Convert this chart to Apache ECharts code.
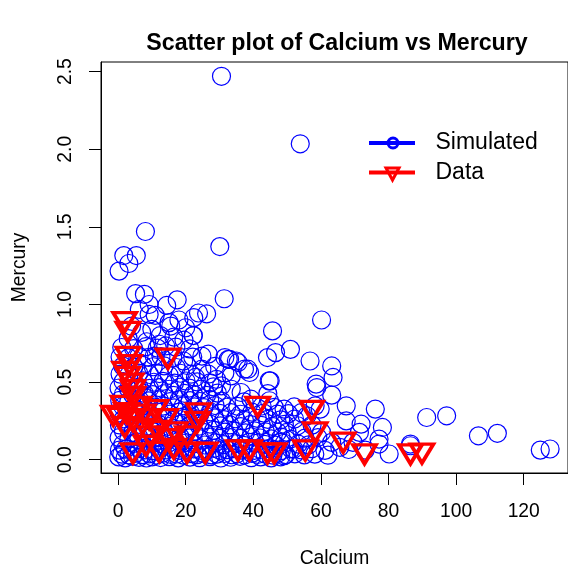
<!DOCTYPE html>
<html>
<head>
<meta charset="utf-8">
<script src="https://cdn.jsdelivr.net/npm/echarts@6/dist/echarts.min.js"></script>
<style>
html,body{margin:0;padding:0;background:#fff;}
#chart{width:568px;height:573px;}
</style>
</head>
<body>
<div id="chart"></div>
<script>
// ---- Data ----
var chartTitle = "Scatter plot of Calcium vs Mercury";
var xLabel = "Calcium";
var yLabel = "Mercury";
var xTicks = [0, 20, 40, 60, 80, 100, 120];
var yTicks = [0, 0.5, 1.0, 1.5, 2.0, 2.5];
var seriesNames = ["Simulated", "Data"];

// Simulated: sparse / outlying points
var simOutliers = [
  [30.6,2.47],[53.9,2.035],[8.1,1.47],[1.7,1.315],[5.4,1.315],[3.2,1.264],[0.3,1.215],
  [30.1,1.373],[31.4,1.037],[5.2,1.07],[7.8,1.065],[17.5,1.03],[14.4,0.994],[9.2,1.0],
  [60.2,0.90],[45.7,0.83],[23.8,0.945],[26.2,0.94],[22.4,0.915],[15.6,0.861],[22.2,0.80],
  [15.1,0.883],[6.3,0.968],[9.2,0.936],[24.8,0.668],[44.2,0.658],[46.6,0.69],[51,0.711],
  [12.2,0.744],[14.1,0.733],[32.6,0.647],[35,0.636],[37.4,0.583],[38.9,0.562],[45,0.508],
  [33.5,0.54],[19.4,0.636],[10.7,0.668],[56.8,0.636],[63.2,0.604],[63.6,0.53],[58.6,0.487],
  [58.8,0.465],[63.2,0.416],[67.5,0.347],[76.1,0.326],[59.8,0.326],[55.9,0.283],[58.3,0.347],
  [67.5,0.25],[71.9,0.229],[78.2,0.208],[71.4,0.176],[77.2,0.133],[77.2,0.101],[91.3,0.272],
  [97.2,0.283],[86.5,0.101],[80.2,0.037],[69.5,0.112],[65.6,0.08],[63.2,0.112],[106.6,0.154],
  [112.2,0.17],[124.9,0.062],[127.8,0.069],[86.5,0.09]
];
// Simulated: medium-density points
var simMid = [
  [22.3,0.8],[26.7,0.68],[33,0.647],[31.6,0.658],[35.5,0.626],[38.4,0.583],[44.7,0.508],
  [24.8,0.583],[26.7,0.551],[29.1,0.518],[22.9,0.53],[30.6,0.476],[33.5,0.454],[36.4,0.433],
  [39.3,0.39],[46.2,0.337],[49.1,0.326],[47.1,0.294],[50,0.176],[51,0.133],[48.1,0.112],
  [52,0.069],[49.1,0.026],[4,0.86],[7,0.82],[10,0.84],[12.5,0.8],[18,0.9],[20,0.85],
  [11,0.93],[3,0.78],[8.5,0.76],[16.5,0.79],[19.5,0.77]
];
// Simulated: dense cloud near the origin
var simDense = [
  [0.2,0.018],[2.1,0.012],[4.3,0.021],[6.2,0.015],[8.4,0.011],[10.1,0.019],[12.6,0.014],[15.2,0.02],[17.8,0.012],[21.3,0.017],[24.1,0.013],[27.2,0.02],[30.4,0.011],[33.3,0.016],[36.1,0.022],[39.4,0.013],[42.2,0.018],[45.3,0.012],[48.1,0.019],
  [1.1,0.036],[3.2,0.031],[5.1,0.04],[7.3,0.033],[9.2,0.038],[11.4,0.029],[13.1,0.041],[15.6,0.034],[17.3,0.037],[19.2,0.03],[21.7,0.039],[23.4,0.033],[25.2,0.042],[27.6,0.031],[29.3,0.036],[31.5,0.04],[33.7,0.032],[35.2,0.038],[37.4,0.03],[39.6,0.041],[41.3,0.034],[43.5,0.037],[45.8,0.029],[47.2,0.04],[49.6,0.033],[52.3,0.038],[55.1,0.031],[58.2,0.036],[62.1,0.029],
  [0.4,0.062],[2.2,0.068],[4.1,0.059],[6.3,0.071],[8.1,0.064],[10.3,0.058],[12.2,0.069],[14.4,0.063],[16.1,0.072],[18.3,0.06],[20.2,0.066],[22.4,0.07],[24.3,0.061],[26.1,0.067],[28.4,0.073],[30.2,0.059],[32.3,0.065],[34.1,0.071],[36.4,0.062],[38.2,0.068],[40.3,0.06],[42.1,0.066],[44.4,0.072],[46.2,0.063],[48.3,0.058],[51.2,0.069],[54.1,0.064],[57.3,0.071],[61.2,0.06],[68.2,0.066],[73.1,0.062],
  [1.4,0.098],[4.6,0.104],[7.3,0.094],[10.6,0.107],[13.2,0.099],[16.7,0.093],[19.4,0.106],[22.3,0.101],[25.6,0.095],[28.7,0.108],[31.3,0.097],[34.6,0.103],[37.2,0.092],[40.7,0.105],[43.4,0.099],[46.6,0.094],[49.2,0.106],[53.3,0.101],[56.4,0.096],
  [0.3,0.142],[3.2,0.136],[6.1,0.147],[9.3,0.139],[12.1,0.144],[15.2,0.134],[18.3,0.149],[21.1,0.141],[24.2,0.135],[27.4,0.146],[30.1,0.138],[33.3,0.143],[36.2,0.137],[39.4,0.148],[42.1,0.14],[45.3,0.134],[48.2,0.145],[55.3,0.139],[59.1,0.143],
  [1.6,0.183],[4.4,0.176],[7.7,0.188],[10.4,0.179],[13.6,0.185],[16.3,0.174],[19.7,0.187],[22.4,0.181],[25.7,0.175],[28.3,0.189],[31.6,0.178],[34.3,0.184],[37.7,0.173],[40.4,0.186],[43.6,0.18],[47.2,0.177],[54.4,0.182],[60.2,0.176],
  [0.4,0.224],[3.1,0.216],[6.2,0.228],[9.1,0.219],[12.3,0.225],[15.1,0.214],[18.2,0.227],[21.3,0.22],[24.1,0.216],[27.2,0.229],[30.3,0.218],[33.1,0.224],[36.3,0.213],[39.2,0.226],[42.4,0.221],[45.6,0.215],[49.2,0.228],[53.1,0.219],[57.4,0.223],
  [1.6,0.263],[4.3,0.256],[7.6,0.268],[10.3,0.259],[13.7,0.265],[16.4,0.254],[19.6,0.267],[22.3,0.261],[25.4,0.256],[28.6,0.269],[31.3,0.258],[34.7,0.264],[37.4,0.253],[41.2,0.266],[44.3,0.26],[48.1,0.257],[52.2,0.262],
  [0.3,0.302],[3.3,0.296],[6.1,0.308],[9.2,0.299],[12.4,0.305],[15.3,0.294],[18.1,0.307],[21.4,0.301],[24.2,0.295],[27.3,0.309],[30.1,0.298],[33.4,0.304],[36.2,0.293],[39.6,0.306],[43.1,0.3],[50.4,0.297],[54.2,0.303],
  [1.4,0.343],[4.6,0.336],[7.4,0.348],[10.7,0.339],[13.3,0.345],[16.6,0.334],[19.3,0.347],[22.6,0.341],[25.4,0.335],[28.7,0.349],[32.1,0.338],[35.4,0.344],[42.6,0.346],[52.1,0.34],
  [0.5,0.382],[3.2,0.376],[6.3,0.388],[9.1,0.379],[12.2,0.385],[15.4,0.374],[18.1,0.387],[21.3,0.381],[24.2,0.375],[27.1,0.389],[30.6,0.378],[37.3,0.373],[44.8,0.38],
  [1.6,0.423],[4.4,0.416],[7.7,0.428],[10.3,0.419],[13.6,0.425],[16.4,0.414],[19.7,0.427],[22.3,0.421],[26.2,0.415],[29.4,0.429],[44.3,0.426],
  [0.3,0.462],[3.1,0.456],[6.2,0.468],[9.3,0.459],[12.1,0.465],[15.2,0.454],[18.3,0.467],[21.1,0.461],[24.6,0.455],[28.2,0.469],
  [1.5,0.503],[4.6,0.496],[7.4,0.508],[10.6,0.499],[13.3,0.505],[16.7,0.494],[20.1,0.507],[23.4,0.501],[27.2,0.495],
  [0.6,0.552],[3.2,0.546],[6.1,0.558],[9.3,0.549],[12.2,0.555],[15.1,0.544],[18.4,0.557],[21.6,0.551],[31.6,0.559],
  [1.4,0.603],[4.6,0.596],[7.3,0.608],[10.4,0.599],[13.6,0.605],[17.2,0.594],[20.4,0.607],[28.6,0.601],
  [0.6,0.662],[3.1,0.656],[6.2,0.668],[9.1,0.659],[12.7,0.665],[16.2,0.654],[22.1,0.661],
  [1.1,0.723],[4.6,0.716],[8.2,0.728],[11.6,0.719],[17.1,0.725],[21.2,0.714]
];
// Observed data points
var dataPoints = [
  [1.95,0.887],[2.9,0.823],[2.9,0.662],[14.8,0.651],[3.4,0.609],[1.95,0.566],[2.9,0.533],[3.9,0.49],[4.4,0.448],[4.4,0.405],
  [1.5,0.347],[6.3,0.34],[11.2,0.32],[0.5,0.27],[4.4,0.25],[9.2,0.262],[14.1,0.262],[-1.4,0.283],[2.5,0.3],[7.5,0.29],
  [23.8,0.298],[41.3,0.341],[23.5,0.244],[6.3,0.197],[11.7,0.186],[17,0.176],[2,0.21],[9.5,0.15],[15.1,0.133],[20.5,0.15],
  [4.4,0.041],[12.2,0.05],[8.3,0.09],[20.4,0.045],[25.8,0.045],[35.5,0.06],[38.9,0.06],[44.2,0.041],[46.2,0.041],[16.5,0.07],
  [57.3,0.315],[58.3,0.176],[55.4,0.06],[66.6,0.11],[72.9,0.035],[86.5,0.035],[89.9,0.04]
];

var simulated = simOutliers.concat(simMid, simDense);
var FONT = "'Liberation Sans', Arial, Helvetica, sans-serif";

var chart = echarts.init(document.getElementById('chart'), null, {renderer: 'canvas'});
var option = {
  backgroundColor: '#ffffff',
  animation: false,
  title: {
    text: chartTitle,
    left: 332,
    top: 27,
    textAlign: 'center',
    textStyle: {fontFamily: FONT, fontSize: 23.2, fontWeight: 'bold', color: '#000'}
  },
  grid: {
    left: 101, top: 62, width: 474, height: 412,
    show: true, borderColor: '#000', borderWidth: 1, backgroundColor: 'transparent'
  },
  xAxis: {
    type: 'value', min: -5.04, max: 133.1,
    name: xLabel, nameLocation: 'middle', nameGap: 76,
    nameTextStyle: {fontFamily: FONT, fontSize: 19.3, color: '#000'},
    axisLine: {show: true, onZero: false, lineStyle: {color: '#000', width: 1}},
    axisTick: {show: true, inside: false, length: 12, lineStyle: {color: '#000', width: 1}, customValues: xTicks},
    axisLabel: {show: true, margin: 29, fontFamily: FONT, fontSize: 19.3, color: '#000', customValues: xTicks},
    splitLine: {show: false}
  },
  yAxis: {
    type: 'value', min: -0.0855, max: 2.562,
    name: yLabel, nameLocation: 'middle', nameGap: 72, nameRotate: 90,
    nameTextStyle: {fontFamily: FONT, fontSize: 19.3, color: '#000'},
    axisLine: {show: true, onZero: false, lineStyle: {color: '#000', width: 1}},
    axisTick: {show: true, inside: false, length: 12, lineStyle: {color: '#000', width: 1}, customValues: yTicks},
    axisLabel: {show: true, rotate: 90, margin: 26, fontFamily: FONT, fontSize: 19.3, color: '#000',
      customValues: yTicks, formatter: function (v) { return v.toFixed(1); }},
    splitLine: {show: false}
  },
  series: [
    {
      name: seriesNames[0], type: 'scatter', data: simulated,
      symbol: 'circle', symbolSize: 18,
      itemStyle: {color: 'rgba(0,0,0,0)', borderColor: '#0000ff', borderWidth: 1.2, opacity: 1},
      emphasis: {disabled: true}
    },
    {
      name: seriesNames[1], type: 'scatter', data: dataPoints,
      symbol: 'triangle', symbolRotate: 180, symbolSize: [23, 19],
      itemStyle: {color: 'rgba(0,0,0,0)', borderColor: '#ff0000', borderWidth: 3.6, opacity: 1},
      emphasis: {disabled: true}
    }
  ],
  graphic: [
    {type: 'line', shape: {x1: 369, y1: 143, x2: 415, y2: 143}, style: {stroke: '#0000ff', lineWidth: 4}},
    {type: 'circle', shape: {cx: 393, cy: 143, r: 5}, style: {stroke: '#0000ff', fill: 'none', lineWidth: 3}},
    {type: 'text', x: 435.5, y: 143, style: {text: seriesNames[0], fontFamily: FONT, fontSize: 23, fill: '#000', verticalAlign: 'middle', align: 'left'}},
    {type: 'line', shape: {x1: 369, y1: 172.5, x2: 415, y2: 172.5}, style: {stroke: '#ff0000', lineWidth: 4}},
    {type: 'polygon', shape: {points: [[386, 168], [399, 168], [392.5, 180]]}, style: {stroke: '#ff0000', fill: 'none', lineWidth: 3}},
    {type: 'text', x: 435.5, y: 172.5, style: {text: seriesNames[1], fontFamily: FONT, fontSize: 23, fill: '#000', verticalAlign: 'middle', align: 'left'}}
  ]
};
chart.setOption(option);
</script>
</body>
</html>
